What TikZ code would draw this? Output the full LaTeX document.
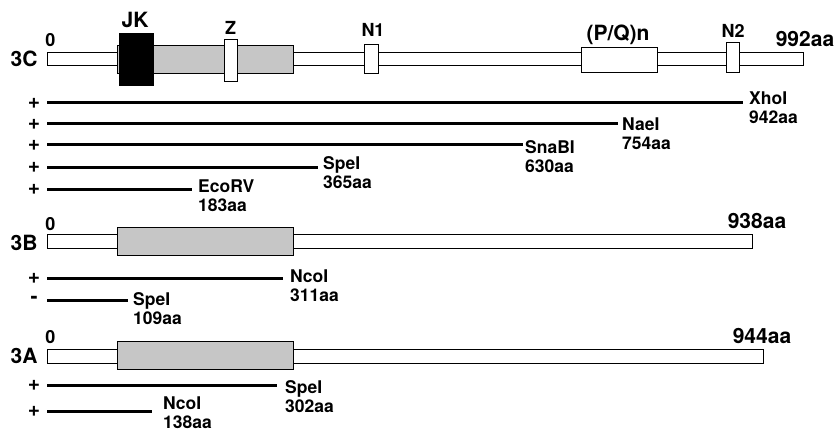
\documentclass[tikz,border=0pt]{standalone}
\usepackage{fontspec}
\setmainfont{TeX Gyre Heros}
\usetikzlibrary{positioning}
\tikzset{
  protbar/.style={draw, fill=white, line width=0.9pt},
  coilbox/.style={draw, fill=gray!45, line width=0.6pt},
  motifbox/.style={draw, fill=white, line width=1pt},
  jkbox/.style={draw, fill=black},
  fragline/.style={line width=3pt},
  biglabel/.style={inner sep=0pt, anchor=base, font=\fontsize{21}{21}\selectfont\bfseries},
  midlabel/.style={inner sep=0pt, anchor=base, font=\fontsize{18}{18}\selectfont\bfseries},
  sitelabel/.style={inner sep=0pt, align=left, anchor=north west, font=\fontsize{17.5}{19}\selectfont\bfseries},
  signlabel/.style={inner sep=0pt, font=\fontsize{21}{21}\selectfont\bfseries}
}

\begin{document}
\begin{tikzpicture}[x=1pt,y=-1pt]
\useasboundingbox (0,0) rectangle (835,433);

% 3C
\draw[protbar] (47,52) rectangle (803,65);
\draw[coilbox] (117,45) rectangle (293,73);
\draw[jkbox] (119,33) rectangle (153,85);
\draw[motifbox] (224,40) rectangle (237,82);
\draw[motifbox] (364,45) rectangle (378,74);
\draw[motifbox] (581,48) rectangle (657,73);
\draw[motifbox] (726,43) rectangle (739,73);
\node[biglabel] (name3c) at (24,67) {3C};
\node[midlabel] (zero3c) at (50.5,47) {0};
\node[biglabel] (jklbl) at (135,28) {JK};
\node[midlabel] (zlbl) at (230.5,35) {Z};
\node[midlabel] (n1lbl) at (373,37) {N1};
\node[biglabel] (pqlbl) at (618,41) {(P/Q)n};
\node[midlabel] (n2lbl) at (733,38) {N2};
\node[biglabel] (end3c) at (805,47) {992aa};

\node[signlabel] (sxho) at (34,103) {+};
\node[signlabel] (snae) at (34,124) {+};
\node[signlabel] (ssna) at (34,145) {+};
\node[signlabel] (sspe) at (34,167) {+};
\node[signlabel] (seco) at (34,189) {+};
\coordinate (xhoa) at (47,103);  \coordinate (xhob) at (743,103);
\coordinate (naea) at (47,124);  \coordinate (naeb) at (618,124);
\coordinate (snaa) at (47,145);  \coordinate (snab) at (523,145);
\coordinate (spea) at (47,167);  \coordinate (speb) at (318,167);
\coordinate (ecoa) at (47,189);  \coordinate (ecob) at (192,189);
\draw[fragline] (xhoa) -- (xhob);
\draw[fragline] (naea) -- (naeb);
\draw[fragline] (snaa) -- (snab);
\draw[fragline] (spea) -- (speb);
\draw[fragline] (ecoa) -- (ecob);
\node[sitelabel] (xholbl) at (749,92) {XhoI\\942aa};
\node[sitelabel] (naelbl) at (622,118) {NaeI\\754aa};
\node[sitelabel] (snalbl) at (525,140) {SnaBI\\630aa};
\node[sitelabel] (spelbl) at (323,156) {SpeI\\365aa};
\node[sitelabel] (ecolbl) at (198,180) {EcoRV\\183aa};

% 3B
\draw[protbar] (47,234) rectangle (752,248);
\draw[coilbox] (117,227) rectangle (293,255);
\node[biglabel] (name3b) at (24,250) {3B};
\node[midlabel] (zero3b) at (50.5,230) {0};
\node[biglabel] (end3b) at (757,228) {938aa};

\node[signlabel] (sncob) at (34,278) {+};
\node[signlabel] (sspeb) at (34,300) {-};
\coordinate (ncoba) at (47,278); \coordinate (ncobb) at (283,278);
\coordinate (speba) at (47,300); \coordinate (spebb) at (128,300);
\draw[fragline] (ncoba) -- (ncobb);
\draw[fragline] (speba) -- (spebb);
\node[sitelabel] (ncoblbl) at (290,270) {NcoI\\311aa};
\node[sitelabel] (speblbl) at (133,292) {SpeI\\109aa};

% 3A
\draw[protbar] (47,349) rectangle (763,363);
\draw[coilbox] (117,341) rectangle (293,369);
\node[biglabel] (name3a) at (24,363) {3A};
\node[midlabel] (zero3a) at (50.5,343) {0};
\node[biglabel] (end3a) at (762,343) {944aa};

\node[signlabel] (sspea) at (34,385) {+};
\node[signlabel] (sncoa) at (34,411) {+};
\coordinate (speaa) at (47,385); \coordinate (speab) at (277,385);
\coordinate (ncoaa) at (47,411); \coordinate (ncoab) at (152,411);
\draw[fragline] (speaa) -- (speab);
\draw[fragline] (ncoaa) -- (ncoab);
\node[sitelabel] (spealbl) at (285,380) {SpeI\\302aa};
\node[sitelabel] (ncoalbl) at (163,397) {NcoI\\138aa};
\end{tikzpicture}
\end{document}
